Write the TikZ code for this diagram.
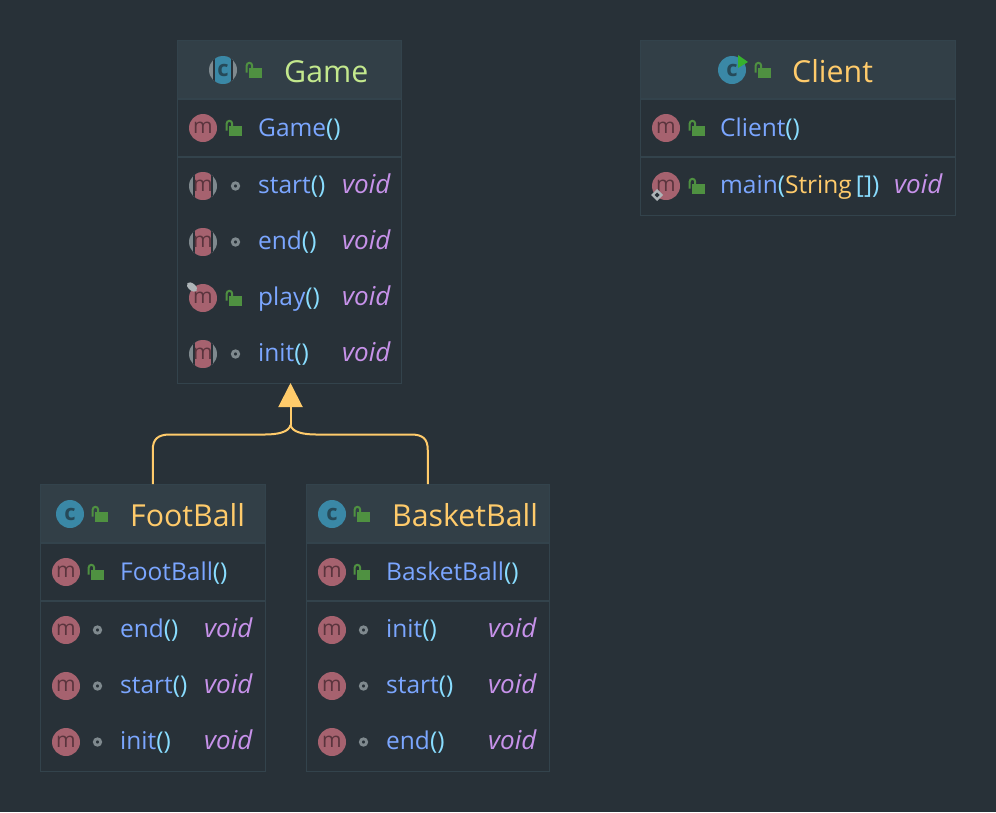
\documentclass[tikz,border=0pt]{standalone}
\usepackage{fontspec}
\setmainfont{Open Sans}
\usetikzlibrary{arrows.meta}
\definecolor{bgc}{HTML}{283138}
\definecolor{headc}{HTML}{323F47}
\definecolor{linec}{HTML}{33434C}
\definecolor{greenT}{HTML}{C3E88D}
\definecolor{yellowT}{HTML}{FFCB6B}
\definecolor{blueT}{HTML}{7BA6FF}
\definecolor{cyanT}{HTML}{89DDFF}
\definecolor{purpleT}{HTML}{C792EA}
\definecolor{mpink}{HTML}{A6626F}
\definecolor{mdark}{HTML}{5A343D}
\definecolor{cblue}{HTML}{3A88A6}
\definecolor{cdark}{HTML}{264A59}
\definecolor{lockg}{HTML}{4F9141}
\definecolor{dotg}{HTML}{7F898E}
\definecolor{marki}{HTML}{AEB5B8}
\tikzset{
  boxshape/.style={draw=linec,line width=1pt,fill=none,inner sep=0pt,rectangle},
  headshape/.style={fill=headc,draw=none},
  sepline/.style={draw=linec,line width=1.5pt},
  titletext/.style={anchor=base west,inner sep=0pt,xshift=-1pt,font=\fontsize{30.3}{32}\selectfont},
  rowtext/.style={anchor=base west,inner sep=0pt,yshift=-0.8pt,font=\fontsize{24.5}{28}\selectfont},
  rettext/.style={anchor=base west,inner sep=0pt,yshift=-0.8pt,font=\fontsize{26}{28}\selectfont\itshape,text=purpleT},
  glyphm/.style={inner sep=0pt,text=mdark,font=\fontsize{21}{21}\selectfont},
  glyphc/.style={inner sep=0pt,text=cdark,font=\bfseries\fontsize{22}{22}\selectfont},
  inherit/.style={draw=yellowT,line width=2pt},
}
% lock at centre x,y
\newcommand{\lockicon}[2]{%
  \fill[lockg] (#1-5,#2-1.7) rectangle (#1+7.7,#2+8);
  \draw[lockg,line width=2pt] (#1-7.3,#2+2.5) -- (#1-7.3,#2-4.5) arc[start angle=180,end angle=360,radius=2.7] -- (#1-1.9,#2-1.5);
}
\newcommand{\dotsicon}[2]{\draw[dotg,line width=2.8pt] (#1+1.5,#2+1) circle[radius=3.2];}
% plain and abstract method icons: {name}{x}{y}
\newcommand{\micon}[3]{%
  \fill[mpink] (#2,#3) circle[radius=14];
  \node[glyphm] (#1) at (#2,#3) {m};
}
\newcommand{\amicon}[3]{%
  \fill[dotg] (#2,#3) circle[radius=14];
  \begin{scope}
    \clip (#2,#3) circle[radius=14];
    \fill[bgc] (#2-10,#3-15) rectangle (#2+10,#3+15);
    \fill[mpink] (#2-8.3,#3-15) rectangle (#2+8.3,#3+15);
  \end{scope}
  \node[glyphm] (#1) at (#2,#3) {m};
}
\newcommand{\cicon}[3]{%
  \fill[cblue] (#2,#3) circle[radius=14];
  \node[glyphc] (#1) at (#2,#3) {c};
}
\begin{document}
\begin{tikzpicture}[x=1pt,y=-1pt]
\useasboundingbox[fill=bgc] (0,0) rectangle (996,812);

% ---------- Game
\fill[headshape] (177.5,40.5) rectangle (401.5,99);
\node[boxshape,minimum width=224pt,minimum height=342.5pt] (game) at (289.5,211.75) {};
\draw[sepline] (177.5,99) -- (401.5,99);
\draw[sepline] (177.5,157) -- (401.5,157);
\fill[dotg] (223,70) circle[radius=14];
\begin{scope}
  \clip (223,70) circle[radius=14];
  \fill[bgc] (213,55) rectangle (233,85);
  \fill[cblue] (214.7,55) rectangle (231.3,85);
\end{scope}
\node[glyphc] (gameC) at (223,70) {c};
\lockicon{254}{70}
\node[titletext,text=greenT] (gameT) at (285,82) {Game};
\micon{m1}{203}{128}\lockicon{234}{128}
\node[rowtext,text=blueT] (g1) at (258,136) {Game\textcolor{cyanT}{()}};
\amicon{m2}{203}{186}\dotsicon{234}{185}
\node[rowtext,text=blueT] (g2) at (258,193) {start\textcolor{cyanT}{()}};
\node[rettext] (g2r) at (342,193) {void};
\amicon{m3}{203}{242}\dotsicon{234}{241}
\node[rowtext,text=blueT] (g3) at (258,249) {end\textcolor{cyanT}{()}};
\node[rettext] (g3r) at (342,249) {void};
\micon{m4}{203}{298}\lockicon{234}{298}
\fill[marki,rotate around={-40:(192,287)}] (192,287) ellipse[x radius=6,y radius=3.5];
\node[rowtext,text=blueT] (g4) at (258,305) {play\textcolor{cyanT}{()}};
\node[rettext] (g4r) at (342,305) {void};
\amicon{m5}{203}{354}\dotsicon{234}{353}
\node[rowtext,text=blueT] (g5) at (258,361) {init\textcolor{cyanT}{()}};
\node[rettext] (g5r) at (342,361) {void};

% ---------- Client
\fill[headshape] (640.5,40.5) rectangle (955,99);
\node[boxshape,minimum width=314.5pt,minimum height=174.5pt] (client) at (797.75,127.75) {};
\draw[sepline] (640.5,99) -- (955,99);
\draw[sepline] (640.5,157) -- (955,157);
\cicon{clientC}{732}{70}
\fill[lockg!70!green] (738,55) -- (748,62) -- (738,68) -- cycle;
\lockicon{763}{70}
\node[titletext,text=yellowT] (clientT) at (793,82) {Client};
\micon{m6}{666}{128}\lockicon{697}{128}
\node[rowtext,text=blueT] (c1) at (720,136) {Client\textcolor{cyanT}{()}};
\micon{m7}{666}{186}\lockicon{697}{186}
\fill[marki] (657,189) -- (663,195) -- (657,201) -- (651,195) -- cycle;
\fill[bgc] (657,192.5) -- (659.5,195) -- (657,197.5) -- (654.5,195) -- cycle;
\node[rowtext,text=blueT] (c2) at (720,193) {main\textcolor{cyanT}{(}\textcolor{yellowT}{String}\,\textcolor{cyanT}{[])}};
\node[rettext] (c2r) at (894,193) {void};

% ---------- FootBall
\fill[headshape] (40.5,484.5) rectangle (265,543);
\node[boxshape,minimum width=224.5pt,minimum height=286.5pt] (foot) at (152.75,627.75) {};
\draw[sepline] (40.5,543) -- (265,543);
\draw[sepline] (40.5,601) -- (265,601);
\cicon{footC}{70}{514}
\lockicon{100}{514}
\node[titletext,text=yellowT] (footT) at (131,526) {FootBall};
\micon{m8}{66}{572}\lockicon{96}{572}
\node[rowtext,text=blueT] (f1) at (120,580) {FootBall\textcolor{cyanT}{()}};
\micon{m9}{66}{630}\dotsicon{96}{629}
\node[rowtext,text=blueT] (f2) at (120,637) {end\textcolor{cyanT}{()}};
\node[rettext] (f2r) at (204,637) {void};
\micon{m10}{66}{686}\dotsicon{96}{685}
\node[rowtext,text=blueT] (f3) at (120,693) {start\textcolor{cyanT}{()}};
\node[rettext] (f3r) at (204,693) {void};
\micon{m11}{66}{742}\dotsicon{96}{741}
\node[rowtext,text=blueT] (f4) at (120,749) {init\textcolor{cyanT}{()}};
\node[rettext] (f4r) at (204,749) {void};

% ---------- BasketBall
\fill[headshape] (306.5,484.5) rectangle (549,543);
\node[boxshape,minimum width=242.5pt,minimum height=286.5pt] (basket) at (427.75,627.75) {};
\draw[sepline] (306.5,543) -- (549,543);
\draw[sepline] (306.5,601) -- (549,601);
\cicon{basketC}{332}{514}
\lockicon{362}{514}
\node[titletext,text=yellowT] (basketT) at (393,526) {BasketBall};
\micon{m12}{332}{572}\lockicon{362}{572}
\node[rowtext,text=blueT] (b1) at (386,580) {BasketBall\textcolor{cyanT}{()}};
\micon{m13}{332}{630}\dotsicon{362}{629}
\node[rowtext,text=blueT] (b2) at (386,637) {init\textcolor{cyanT}{()}};
\node[rettext] (b2r) at (488,637) {void};
\micon{m14}{332}{686}\dotsicon{362}{685}
\node[rowtext,text=blueT] (b3) at (386,693) {start\textcolor{cyanT}{()}};
\node[rettext] (b3r) at (488,693) {void};
\micon{m15}{332}{742}\dotsicon{362}{741}
\node[rowtext,text=blueT] (b4) at (386,749) {end\textcolor{cyanT}{()}};
\node[rettext] (b4r) at (488,749) {void};

% ---------- Connectors
\coordinate (join) at (290.5,425);
\draw[inherit] (foot.north) -- (152.75,450) .. controls (152.75,439) and (158,434.5) .. (170,434.5) -- (265,434.5) .. controls (278,434.5) and (289,432) .. (join);
\draw[inherit] (basket.north) -- (427.75,450) .. controls (427.75,439) and (423,434.5) .. (411,434.5) -- (316,434.5) .. controls (303,434.5) and (292,432) .. (join);
\draw[inherit,-{Triangle[length=24pt,width=24pt,fill=yellowT]}] (join) -- ([yshift=0.5pt]game.south -| join);
\end{tikzpicture}
\end{document}
